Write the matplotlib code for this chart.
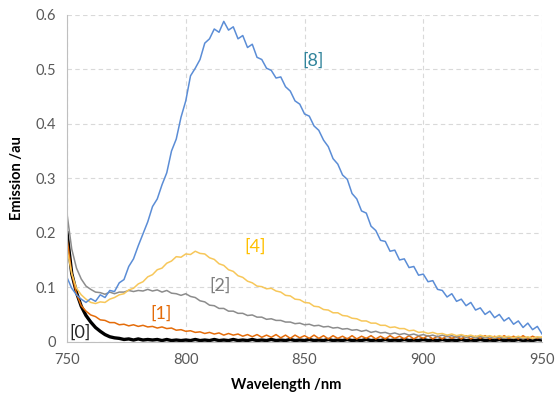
import numpy as np
import matplotlib
matplotlib.use("Agg")
from matplotlib import pyplot as plt

# wavelength grid (nm), 2 nm steps
wavelength = list(range(750, 952, 2))

em_0 = [0.2, 0.125, 0.09, 0.065, 0.048, 0.036, 0.026, 0.019, 0.013, 0.009,
        0.007, 0.006, 0.004, 0.005, 0.003, 0.005, 0.003, 0.004, 0.003, 0.004,
        0.002, 0.004, 0.002, 0.003, 0.002, 0.003, 0.002, 0.004, 0.002, 0.003,
        0.002, 0.004, 0.002, 0.003, 0.002, 0.004, 0.002, 0.003, 0.002, 0.004,
        0.002, 0.003, 0.002, 0.004, 0.002, 0.003, 0.002, 0.004, 0.002, 0.003,
        0.002, 0.004, 0.002, 0.003, 0.002, 0.004, 0.002, 0.003, 0.002, 0.004,
        0.002, 0.003, 0.002, 0.004, 0.002, 0.003, 0.002, 0.004, 0.002, 0.003,
        0.002, 0.004, 0.002, 0.003, 0.002, 0.004, 0.002, 0.003, 0.002, 0.004,
        0.002, 0.003, 0.002, 0.004, 0.002, 0.003, 0.002, 0.004, 0.002, 0.003,
        0.002, 0.004, 0.002, 0.003, 0.002, 0.004, 0.002, 0.003, 0.002, 0.004,
        0.003]

em_1 = [0.19, 0.125, 0.088, 0.066, 0.056, 0.049, 0.046, 0.04, 0.039, 0.035,
        0.035, 0.031, 0.032, 0.029, 0.031, 0.028, 0.03, 0.027, 0.028, 0.025,
        0.027, 0.024, 0.025, 0.021, 0.022, 0.019, 0.02, 0.017, 0.018, 0.015,
        0.017, 0.014, 0.016, 0.012, 0.015, 0.012, 0.014, 0.01, 0.013, 0.009,
        0.013, 0.008, 0.012, 0.008, 0.013, 0.007, 0.012, 0.006, 0.012, 0.007,
        0.011, 0.006, 0.012, 0.006, 0.011, 0.005, 0.011, 0.006, 0.01, 0.005,
        0.011, 0.005, 0.01, 0.006, 0.011, 0.005, 0.01, 0.005, 0.011, 0.006,
        0.01, 0.005, 0.011, 0.005, 0.01, 0.006, 0.011, 0.005, 0.01, 0.005,
        0.011, 0.006, 0.01, 0.005, 0.011, 0.005, 0.01, 0.006, 0.011, 0.005,
        0.01, 0.005, 0.011, 0.006, 0.01, 0.005, 0.011, 0.005, 0.01, 0.006,
        0.008]

em_2 = [0.235, 0.17, 0.135, 0.115, 0.102, 0.096, 0.091, 0.09, 0.087, 0.091,
        0.088, 0.091, 0.091, 0.094, 0.092, 0.094, 0.093, 0.096, 0.093, 0.095,
        0.091, 0.094, 0.089, 0.088, 0.085, 0.088, 0.083, 0.081, 0.075, 0.073,
        0.067, 0.066, 0.061, 0.061, 0.056, 0.056, 0.052, 0.052, 0.048, 0.049,
        0.045, 0.045, 0.041, 0.042, 0.039, 0.039, 0.036, 0.036, 0.033, 0.034,
        0.031, 0.032, 0.029, 0.03, 0.027, 0.028, 0.025, 0.026, 0.023, 0.024,
        0.021, 0.022, 0.019, 0.021, 0.017, 0.019, 0.016, 0.017, 0.014, 0.016,
        0.013, 0.015, 0.012, 0.014, 0.011, 0.013, 0.01, 0.012, 0.009, 0.012,
        0.009, 0.011, 0.008, 0.011, 0.008, 0.01, 0.007, 0.01, 0.007, 0.009,
        0.006, 0.009, 0.006, 0.009, 0.006, 0.008, 0.005, 0.008, 0.005, 0.008,
        0.005]

em_4 = [0.17, 0.125, 0.098, 0.086, 0.078, 0.072, 0.07, 0.073, 0.072, 0.078,
        0.081, 0.086, 0.088, 0.095, 0.098, 0.106, 0.11, 0.119, 0.123, 0.132,
        0.135, 0.144, 0.148, 0.156, 0.155, 0.161, 0.16, 0.166, 0.162, 0.161,
        0.154, 0.151, 0.143, 0.14, 0.132, 0.129, 0.121, 0.118, 0.111, 0.108,
        0.102, 0.101, 0.097, 0.098, 0.093, 0.091, 0.085, 0.084, 0.078, 0.077,
        0.072, 0.071, 0.065, 0.064, 0.059, 0.058, 0.053, 0.053, 0.048, 0.047,
        0.043, 0.042, 0.038, 0.038, 0.034, 0.034, 0.03, 0.03, 0.026, 0.027,
        0.024, 0.024, 0.02, 0.021, 0.017, 0.018, 0.015, 0.017, 0.014, 0.015,
        0.012, 0.014, 0.011, 0.013, 0.01, 0.012, 0.009, 0.012, 0.009, 0.011,
        0.008, 0.011, 0.008, 0.01, 0.007, 0.01, 0.007, 0.009, 0.006, 0.009,
        0.008]

em_8 = [0.118, 0.098, 0.086, 0.078, 0.072, 0.079, 0.074, 0.086, 0.081, 0.094,
        0.092, 0.108, 0.114, 0.138, 0.152, 0.176, 0.198, 0.22, 0.248, 0.262,
        0.288, 0.31, 0.35, 0.372, 0.412, 0.442, 0.488, 0.502, 0.518, 0.548,
        0.556, 0.574, 0.568, 0.588, 0.572, 0.578, 0.556, 0.562, 0.54, 0.546,
        0.522, 0.518, 0.502, 0.498, 0.484, 0.486, 0.468, 0.46, 0.442, 0.436,
        0.418, 0.414, 0.396, 0.388, 0.37, 0.358, 0.336, 0.326, 0.306, 0.298,
        0.272, 0.262, 0.24, 0.236, 0.212, 0.204, 0.186, 0.184, 0.166, 0.168,
        0.15, 0.152, 0.136, 0.138, 0.122, 0.124, 0.11, 0.112, 0.096, 0.094,
        0.082, 0.088, 0.074, 0.078, 0.066, 0.072, 0.058, 0.062, 0.05, 0.056,
        0.044, 0.05, 0.038, 0.044, 0.032, 0.038, 0.026, 0.034, 0.022, 0.028,
        0.014]

plt.rcParams['font.family'] = ['Lato', 'DejaVu Sans']

fig = plt.figure(figsize=(5.55, 4.01), dpi=100)
ax = fig.add_axes([0.1207, 0.148, 0.856, 0.815])

ax.plot(wavelength, em_0, color='black', linewidth=2.4)
ax.plot(wavelength, em_1, color='#E46C0A', linewidth=1.1)
ax.plot(wavelength, em_2, color='#8C8C8C', linewidth=1.1)
ax.plot(wavelength, em_4, color='#F7C75A', linewidth=1.1)
ax.plot(wavelength, em_8, color='#5B8DD6', linewidth=1.1)

# series labels
lab_kw = dict(fontsize=13, ha='center', va='center')
ax.text(853.6, 0.516, '[8]', color='#31849B', **lab_kw)
ax.text(829, 0.174, '[4]', color='#FFC000', **lab_kw)
ax.text(814.4, 0.102, '[2]', color='#7F7F7F', **lab_kw)
ax.text(789.6, 0.052, '[1]', color='#E46C0A', **lab_kw)
ax.text(755.5, 0.016, '[0]', color='#262626', **lab_kw)

ax.set_xlim(750, 950)
ax.set_ylim(0, 0.6)
ax.set_xticks([750, 800, 850, 900, 950])
ax.set_yticks([0, 0.1, 0.2, 0.3, 0.4, 0.5, 0.6])
ax.set_yticklabels(['0', '0.1', '0.2', '0.3', '0.4', '0.5', '0.6'])
ax.tick_params(length=0, labelsize=10.5, labelcolor='#595959', pad=8)

ax.grid(color='#D9D9D9', linestyle=(0, (4, 3)), linewidth=0.8)
ax.set_axisbelow(True)
for s in ['top', 'right']:
    ax.spines[s].set_visible(False)
ax.spines['left'].set_color('#BFBFBF')
ax.spines['bottom'].set_color('#BFBFBF')

ax.set_xlabel('Wavelength /nm', fontsize=10.5, fontweight='bold', color='black', labelpad=10)
ax.xaxis.set_label_coords(0.462, -0.11)
ax.set_ylabel('Emission /au', fontsize=10.5, fontweight='bold', color='black', labelpad=8)

plt.savefig('out.png', dpi=100)
